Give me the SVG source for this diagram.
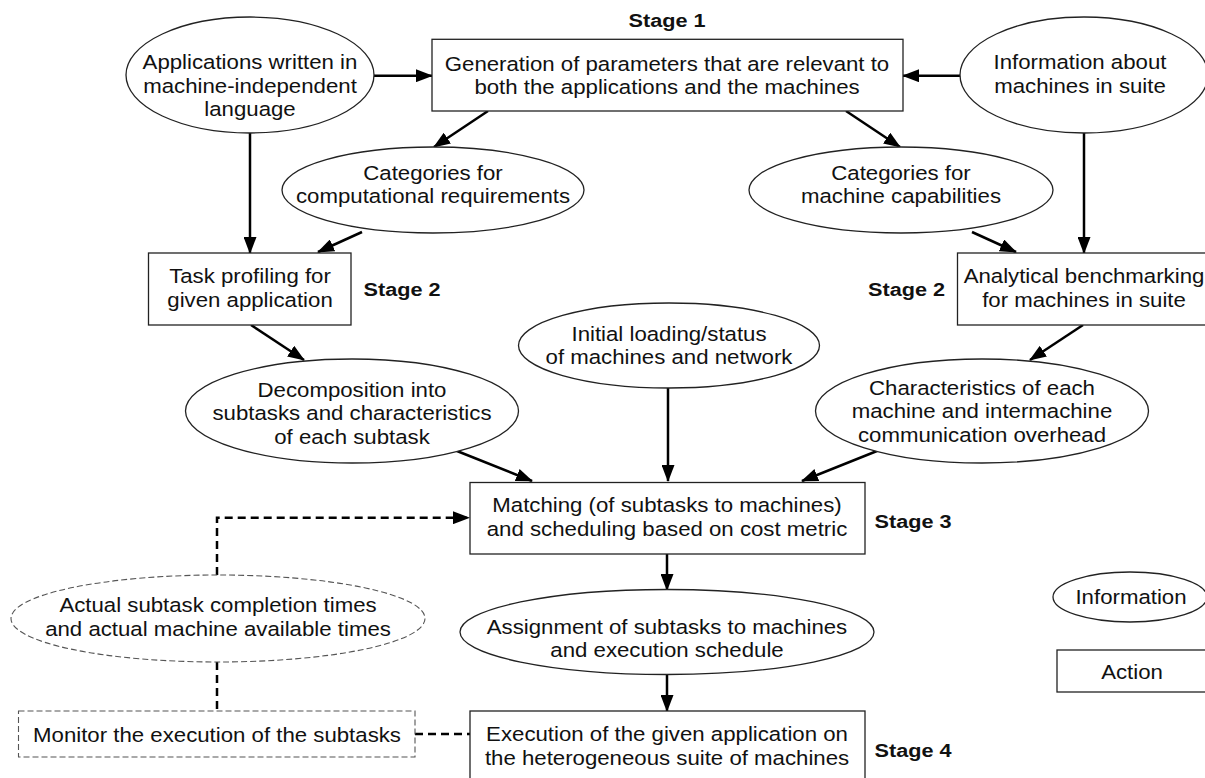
<svg xmlns="http://www.w3.org/2000/svg" width="1205" height="778" viewBox="0 0 1205 778">
<style>
.n{fill:#fff;stroke:#222;stroke-width:1.3}
.d{fill:#fff;stroke:#555;stroke-width:1.1;stroke-dasharray:6 3}
.t{font-family:"Liberation Sans",Arial,sans-serif;font-size:19.5px;fill:#111;text-anchor:middle}
.s{font-family:"Liberation Sans",Arial,sans-serif;font-size:19px;font-weight:bold;fill:#111;text-anchor:middle}
.c{fill:none;stroke:#000;stroke-width:2.5}
.dc{fill:none;stroke:#000;stroke-width:2.5;stroke-dasharray:8 5}
</style>
<defs>
<marker id="ah" markerUnits="userSpaceOnUse" markerWidth="17" markerHeight="13" refX="16" refY="6.5" orient="auto">
<path d="M0,0 L17,6.5 L0,13 z" fill="#000"/>
</marker>
</defs>
<rect width="1205" height="778" fill="#fff"/>
<g id="connectors">
<line class="c" x1="374" y1="75.7" x2="432" y2="75.7" marker-end="url(#ah)"/>
<line class="c" x1="961" y1="75.7" x2="903" y2="75.7" marker-end="url(#ah)"/>
<line class="c" x1="488" y1="111" x2="434" y2="147" marker-end="url(#ah)"/>
<line class="c" x1="846" y1="111" x2="900" y2="147" marker-end="url(#ah)"/>
<line class="c" x1="250" y1="133" x2="250" y2="253" marker-end="url(#ah)"/>
<line class="c" x1="1084" y1="133" x2="1084" y2="253" marker-end="url(#ah)"/>
<line class="c" x1="362" y1="232" x2="318" y2="252" marker-end="url(#ah)"/>
<line class="c" x1="972" y1="232" x2="1016" y2="252" marker-end="url(#ah)"/>
<line class="c" x1="251" y1="325" x2="304" y2="360" marker-end="url(#ah)"/>
<line class="c" x1="1083" y1="325" x2="1030" y2="360" marker-end="url(#ah)"/>
<line class="c" x1="457" y1="451" x2="532" y2="481" marker-end="url(#ah)"/>
<line class="c" x1="877" y1="451" x2="802" y2="481" marker-end="url(#ah)"/>
<line class="c" x1="668" y1="388" x2="668" y2="481" marker-end="url(#ah)"/>
<line class="c" x1="667" y1="554" x2="667" y2="590" marker-end="url(#ah)"/>
<line class="c" x1="667" y1="675" x2="667" y2="711" marker-end="url(#ah)"/>
<polyline class="dc" points="217,575 217,517.7 469,517.7" marker-end="url(#ah)"/>
<line class="dc" x1="217" y1="662" x2="217" y2="711"/>
<line class="dc" x1="415" y1="734" x2="470" y2="734"/>
</g>
<text class="s" transform="translate(667 27) scale(1.14 1)" x="0" y="0">Stage 1</text>
<text class="s" transform="translate(402 296) scale(1.14 1)" x="0" y="0">Stage 2</text>
<text class="s" transform="translate(906.5 296) scale(1.14 1)" x="0" y="0">Stage 2</text>
<text class="s" transform="translate(913 528) scale(1.14 1)" x="0" y="0">Stage 3</text>
<text class="s" transform="translate(913 757) scale(1.14 1)" x="0" y="0">Stage 4</text>
<g id="app">
<ellipse class="n" cx="250" cy="75" rx="124" ry="58"/>
<text class="t" transform="translate(250 0) scale(1.14 1)"><tspan x="0" y="69.5">Applications written in</tspan><tspan x="0" y="93">machine-independent</tspan><tspan x="0" y="116.5">language</tspan></text>
</g>
<g id="gen">
<rect class="n" x="432" y="39.3" width="471" height="71.7"/>
<text class="t" transform="translate(667 0) scale(1.14 1)"><tspan x="0" y="70.7">Generation of parameters that are relevant to</tspan><tspan x="0" y="94.3">both the applications and the machines</tspan></text>
</g>
<g id="info">
<ellipse class="n" cx="1084" cy="75" rx="124" ry="58"/>
<text class="t" transform="translate(1080 0) scale(1.14 1)"><tspan x="0" y="69.5">Information about</tspan><tspan x="0" y="93">machines in suite</tspan></text>
</g>
<g id="compreq">
<ellipse class="n" cx="433" cy="190" rx="151" ry="43"/>
<text class="t" transform="translate(433 0) scale(1.14 1)"><tspan x="0" y="180">Categories for</tspan><tspan x="0" y="203">computational requirements</tspan></text>
</g>
<g id="machcap">
<ellipse class="n" cx="901" cy="190" rx="152" ry="43"/>
<text class="t" transform="translate(901 0) scale(1.14 1)"><tspan x="0" y="180">Categories for</tspan><tspan x="0" y="203">machine capabilities</tspan></text>
</g>
<g id="task">
<rect class="n" x="148.5" y="253" width="202.5" height="72"/>
<text class="t" transform="translate(250 0) scale(1.14 1)"><tspan x="0" y="283.5">Task profiling for</tspan><tspan x="0" y="307">given application</tspan></text>
</g>
<g id="bench">
<rect class="n" x="957.5" y="253" width="253" height="72"/>
<text class="t" transform="translate(1084 0) scale(1.14 1)"><tspan x="0" y="283.5">Analytical benchmarking</tspan><tspan x="0" y="307">for machines in suite</tspan></text>
</g>
<g id="initial">
<ellipse class="n" cx="669" cy="345.5" rx="150.5" ry="42.5"/>
<text class="t" transform="translate(669 0) scale(1.14 1)"><tspan x="0" y="340.7">Initial loading/status</tspan><tspan x="0" y="364">of machines and network</tspan></text>
</g>
<g id="decomp">
<ellipse class="n" cx="352" cy="411" rx="166.5" ry="52"/>
<text class="t" transform="translate(352 0) scale(1.14 1)"><tspan x="0" y="397">Decomposition into</tspan><tspan x="0" y="420.5">subtasks and characteristics</tspan><tspan x="0" y="444">of each subtask</tspan></text>
</g>
<g id="charac">
<ellipse class="n" cx="982" cy="411" rx="166.5" ry="52"/>
<text class="t" transform="translate(982 0) scale(1.14 1)"><tspan x="0" y="395">Characteristics of each</tspan><tspan x="0" y="418.5">machine and intermachine</tspan><tspan x="0" y="442">communication overhead</tspan></text>
</g>
<g id="matching">
<rect class="n" x="470" y="482.5" width="395" height="71.5"/>
<text class="t" transform="translate(667 0) scale(1.14 1)"><tspan x="0" y="512.5">Matching (of subtasks to machines)</tspan><tspan x="0" y="536">and scheduling based on cost metric</tspan></text>
</g>
<g id="actual">
<ellipse class="d" cx="218" cy="618.5" rx="207" ry="43.5"/>
<text class="t" transform="translate(218 0) scale(1.14 1)"><tspan x="0" y="612">Actual subtask completion times</tspan><tspan x="0" y="636">and actual machine available times</tspan></text>
</g>
<g id="assign">
<ellipse class="n" cx="667" cy="632" rx="207" ry="42.5"/>
<text class="t" transform="translate(667 0) scale(1.14 1)"><tspan x="0" y="634">Assignment of subtasks to machines</tspan><tspan x="0" y="657.5">and execution schedule</tspan></text>
</g>
<g id="monitor">
<rect class="d" x="18.5" y="711" width="396.5" height="46"/>
<text class="t" transform="translate(217 742) scale(1.14 1)" x="0" y="0">Monitor the execution of the subtasks</text>
</g>
<g id="exec">
<rect class="n" x="470" y="711" width="395" height="80"/>
<text class="t" transform="translate(667 0) scale(1.14 1)"><tspan x="0" y="741.5">Execution of the given application on</tspan><tspan x="0" y="765">the heterogeneous suite of machines</tspan></text>
</g>
<g id="legend-info">
<ellipse class="n" cx="1130" cy="597" rx="77" ry="25"/>
<text class="t" transform="translate(1131 604) scale(1.14 1)" x="0" y="0">Information</text>
</g>
<g id="legend-action">
<rect class="n" x="1057" y="650" width="153" height="42"/>
<text class="t" transform="translate(1132 679) scale(1.14 1)" x="0" y="0">Action</text>
</g>
</svg>
